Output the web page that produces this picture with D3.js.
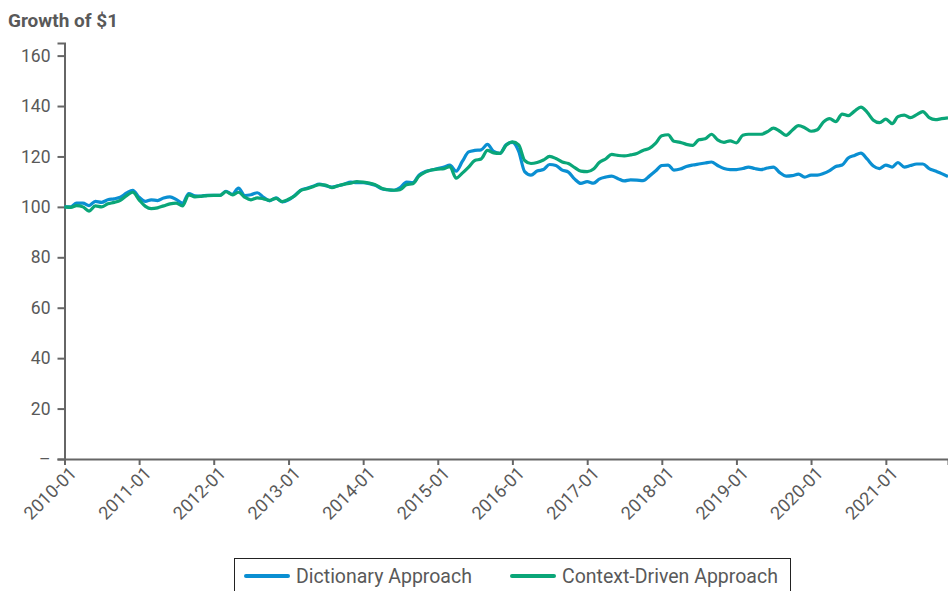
<!DOCTYPE html>
<html>
<head>
<meta charset="utf-8">
<script src="https://cdn.jsdelivr.net/npm/d3@7"></script>
<style>
  body { margin: 0; background: #fff; }
  text { font-family: Roboto, 'Open Sans', sans-serif; }
</style>
</head>
<body>
<div class="canvas"></div>
<script>
// monthly values, 2010-01 .. 2021-11
const startMonth = '2010-01'
const dictionary = [
  100, 100, 101.5, 101.5, 100.5, 102.2, 101.8, 102.8, 103.2, 103.8, 105.5, 106.6,
  103.8, 102.2, 102.8, 102.5, 103.5, 104, 103, 101.5, 105.3, 104.4, 104.3, 104.6,
  104.6, 104.6, 106.2, 105, 107.4, 104.5, 104.8, 105.6, 103.8, 102.4, 103.6, 102,
  102.8, 104.6, 106.6, 107.4, 108.2, 109, 108.4, 107.8, 108.4, 109, 109.8, 109.6,
  109.6, 109.2, 108.6, 107.2, 106.8, 106.6, 107.6, 109.8, 109.6, 112.6, 114, 114.6,
  115.2, 115.8, 116.6, 114.2, 118, 121.8, 122.4, 122.6, 124.8, 122, 121.2, 124.6,
  125.6, 122, 114, 112.6, 114.2, 114.8, 116.8, 116.4, 114.6, 113.8, 111, 109.3,
  110, 109.4, 111, 111.8, 112.2, 111.2, 110.3, 110.7, 110.6, 110.4, 112.2, 114.2,
  116.4, 116.6, 114.6, 115, 116, 116.6, 117, 117.4, 117.8, 116.4, 115.2, 114.8,
  114.8, 115.2, 115.8, 115.2, 114.8, 115.4, 115.8, 113.6, 112.2, 112.4, 113, 111.8,
  112.6, 112.6, 113.2, 114.4, 116, 116.6, 119.4, 120.4, 121.3, 119, 116.2, 115.2,
  116.6, 115.8, 117.6, 115.8, 116.4, 117, 117, 115.2, 114.2, 113.2, 112
]
const contextDriven = [
  100, 99.8, 100.5, 100, 98.3, 100.4, 100, 101.2, 101.8, 102.6, 104.5, 105.8,
  102.8, 100.2, 99.3, 99.6, 100.4, 101.2, 101.5, 100.4, 104.8, 104, 104.2, 104.5,
  104.6, 104.6, 106, 104.8, 105.8, 103.8, 102.8, 103.6, 103.2, 102.6, 103.4, 102.1,
  103, 104.4, 106.5, 107.2, 108, 108.8, 108.6, 107.6, 108.4, 109, 109.4, 110,
  109.8, 109.4, 108.8, 107.4, 106.8, 106.6, 106.8, 108.8, 109.2, 112.2, 113.8, 114.6,
  115, 115.2, 116, 111.4, 113.4, 115.8, 118.4, 119, 122.4, 121.4, 121.2, 124.4,
  125.8, 124.6, 118.4, 117.2, 117.6, 118.6, 120, 119.2, 117.8, 117.2, 115.6, 114.2,
  114, 115, 117.6, 119, 120.8, 120.4, 120.2, 120.6, 121.2, 122.4, 123.2, 125.2,
  128.2, 128.6, 126, 125.6, 124.8, 124.4, 126.6, 127, 128.8, 126.6, 125.6, 126.2,
  125.4, 128.4, 128.8, 128.8, 128.8, 129.8, 131.2, 130, 128.4, 130.4, 132.2, 131.4,
  130, 130.6, 133.6, 135, 133.8, 136.8, 136.2, 138, 139.6, 137.6, 134.4, 133.4,
  134.8, 133, 135.8, 136.4, 135.4, 136.6, 137.8, 135.4, 134.6, 135, 135.3
]
const seriesNames = ['Dictionary Approach', 'Context-Driven Approach']
const seriesColors = ['#0a8fd2', '#0aa678']
const xTickLabels = ['2010-01', '2011-01', '2012-01', '2013-01', '2014-01', '2015-01',
  '2016-01', '2017-01', '2018-01', '2019-01', '2020-01', '2021-01']
const yTicks = [0, 20, 40, 60, 80, 100, 120, 140, 160]

const width = 948
const height = 591
const margin = {top: 43, right: 0, bottom: 132, left: 64.5}
const graphWidth = width - margin.left - margin.right
const graphHeight = height - margin.top - margin.bottom

const parseMonth = d3.timeParse('%Y-%m')
const start = parseMonth(startMonth)
const dates = dictionary.map((d, i) => d3.timeMonth.offset(start, i))

const svg = d3.select('.canvas')
  .append('svg')
  .attr('width', width)
  .attr('height', height)

const graph = svg.append('g')
  .attr('transform', `translate(${margin.left}, ${margin.top})`)

const x = d3.scaleTime()
  .domain([dates[0], dates[dates.length - 1]])
  .range([0, graphWidth])

const y = d3.scaleLinear()
  .domain([0, 165])
  .range([graphHeight, 0])

// axes
const xAxis = d3.axisBottom(x)
  .tickValues(xTickLabels.map(parseMonth))
  .tickFormat(d3.timeFormat('%Y-%m'))
  .tickSizeOuter(0)
  .tickSize(6)

const yAxis = d3.axisLeft(y)
  .tickValues(yTicks)
  .tickFormat(d => d === 0 ? '–' : d)
  .tickSizeOuter(0)
  .tickSize(7)
  .tickPadding(7)

const xAxisGroup = graph.append('g')
  .attr('transform', `translate(0, ${graphHeight})`)
  .call(xAxis)
const yAxisGroup = graph.append('g').call(yAxis)

;[xAxisGroup, yAxisGroup].forEach(g => {
  g.select('.domain').attr('stroke', '#666').attr('stroke-width', 2)
  g.selectAll('.tick line').attr('stroke', '#666').attr('stroke-width', 2)
  g.selectAll('.tick text')
    .attr('fill', '#595959')
    .style('font-size', '17.5px')
})

xAxisGroup.selectAll('text')
  .attr('transform', 'rotate(-45)')
  .attr('text-anchor', 'end')
  .attr('dx', '-0.1em')
  .attr('dy', '0.6em')
  .style('font-size', '18px')

// lines
const line = d3.line()
  .x((d, i) => x(dates[i]))
  .y(d => y(d))
  .curve(d3.curveMonotoneX)

graph.selectAll('path.series')
  .data([dictionary, contextDriven])
  .enter()
  .append('path')
  .attr('class', 'series')
  .attr('d', line)
  .attr('fill', 'none')
  .attr('stroke', (d, i) => seriesColors[i])
  .attr('stroke-width', 3.2)
  .attr('stroke-linejoin', 'round')

// title
svg.append('text')
  .attr('x', 8)
  .attr('y', 27)
  .attr('fill', '#595959')
  .style('font-size', '19px')
  .style('font-weight', 'bold')
  .text('Growth of $1')

// legend
const legend = svg.append('g')
  .attr('transform', 'translate(234, 558)')

legend.append('rect')
  .attr('x', 0.5)
  .attr('y', 0.5)
  .attr('width', 556)
  .attr('height', 40)
  .attr('fill', '#fff')
  .attr('stroke', '#222')
  .attr('stroke-width', 1)

const legendX = [12, 278]
const items = legend.selectAll('g.item')
  .data(seriesNames)
  .enter()
  .append('g')
  .attr('class', 'item')
  .attr('transform', (d, i) => `translate(${legendX[i]}, 18)`)

items.append('line')
  .attr('x1', 0)
  .attr('x2', 42)
  .attr('stroke', (d, i) => seriesColors[i])
  .attr('stroke-width', 4)
  .attr('stroke-linecap', 'round')

items.append('text')
  .attr('x', 50)
  .attr('dy', '0.35em')
  .attr('fill', '#595959')
  .style('font-size', '19.5px')
  .text(d => d)
</script>
</body>
</html>
